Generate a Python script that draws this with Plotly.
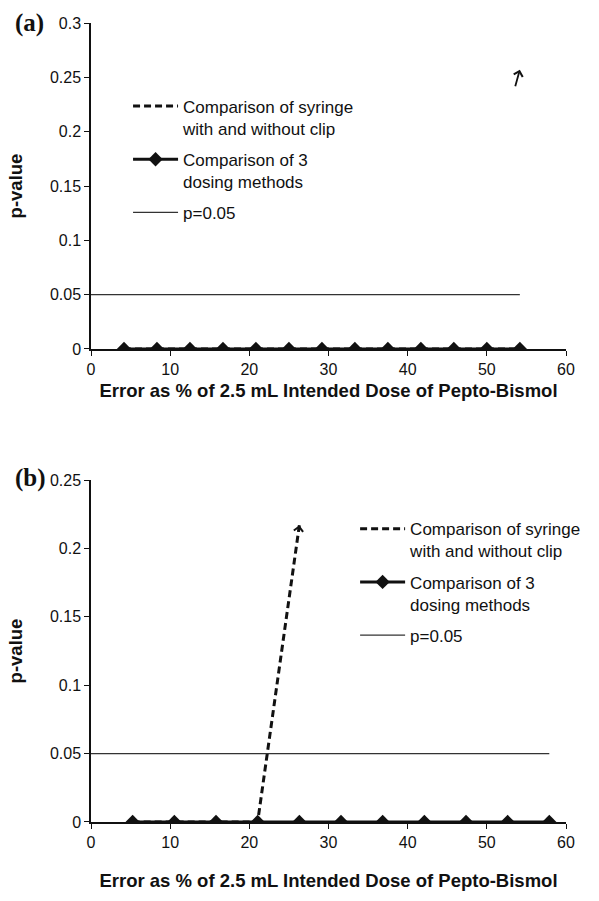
import plotly.graph_objects as go

# ---- data ----
xa = [4.17, 8.33, 12.5, 16.67, 20.83, 25.0, 29.17, 33.33, 37.5, 41.67, 45.83, 50.0, 54.17]
a_three_methods = [0.0] * 13
a_syringe_clip = [0.0] * 13
a_arrow_p = 0.257

xb = [5.26, 10.53, 15.79, 21.05, 26.32, 31.58, 36.84, 42.11, 47.37, 52.63, 57.89]
b_three_methods = [0.0] * 11
xb_syringe = [5.26, 10.53, 15.79, 21.05, 26.32]
b_syringe_clip = [0.0, 0.0, 0.0, 0.0, 0.217]

p_threshold = 0.05
xtitle = "Error as % of 2.5 mL Intended Dose of Pepto-Bismol"
name_syr = "Comparison of syringe<br>with and without clip"
name_3 = "Comparison of 3<br>dosing methods"
name_p = "p=0.05"

FONT = "Liberation Sans, Arial, sans-serif"
INK = "#111111"

fig = go.Figure()

# panel (a)
fig.add_trace(go.Scatter(x=xa, y=a_syringe_clip, mode="lines", name=name_syr,
                         line=dict(color=INK, width=3, dash="7px,4px"), legendgroup="s",
                         xaxis="x", yaxis="y", legend="legend"))
fig.add_trace(go.Scatter(x=xa, y=a_three_methods, mode="lines+markers", name=name_3,
                         line=dict(color=INK, width=3), legendgroup="m",
                         marker=dict(symbol="diamond", size=11, color=INK),
                         xaxis="x", yaxis="y", legend="legend"))
fig.add_trace(go.Scatter(x=[0, xa[-1]], y=[p_threshold, p_threshold], mode="lines", name=name_p,
                         line=dict(color="#333333", width=1.2), legendgroup="p",
                         xaxis="x", yaxis="y", legend="legend"))

# panel (b)
fig.add_trace(go.Scatter(x=xb_syringe, y=b_syringe_clip, mode="lines", name=name_syr,
                         line=dict(color=INK, width=3, dash="7px,4px"), legendgroup="s",
                         xaxis="x2", yaxis="y2", legend="legend2"))
fig.add_trace(go.Scatter(x=xb, y=b_three_methods, mode="lines+markers", name=name_3,
                         line=dict(color=INK, width=3), legendgroup="m",
                         marker=dict(symbol="diamond", size=11, color=INK),
                         xaxis="x2", yaxis="y2", legend="legend2"))
fig.add_trace(go.Scatter(x=[0, xb[-1]], y=[p_threshold, p_threshold], mode="lines", name=name_p,
                         line=dict(color="#333333", width=1.2), legendgroup="p",
                         xaxis="x2", yaxis="y2", legend="legend2"))

axis_common = dict(showline=True, linecolor=INK, linewidth=1.5, ticks="outside",
                   ticklen=5, tickcolor=INK, tickwidth=1.2, showgrid=False, zeroline=False,
                   tickfont=dict(family=FONT, size=16, color=INK))
title_font = dict(family=FONT, size=18.5, color=INK, weight="bold")
xt_a = dict(text=xtitle, font=title_font, standoff=7)
xt_b = dict(text=xtitle, font=title_font, standoff=24)
yt = dict(text="p-value", font=title_font, standoff=22)

legend_common = dict(font=dict(family=FONT, size=17, color=INK), bgcolor="rgba(0,0,0,0)",
                     valign="top", itemwidth=45, tracegroupgap=6, xanchor="left", yanchor="top")

fig.update_layout(
    width=599, height=901,
    margin=dict(l=91, r=13, t=23, b=79),
    paper_bgcolor="white", plot_bgcolor="white",
    xaxis=dict(domain=[0, 1], anchor="y", range=[0, 60], dtick=10, title=xt_a, **axis_common),
    yaxis=dict(domain=[0.592, 1.0], anchor="x", range=[0, 0.3], dtick=0.05, title=yt,
               tickformat="~g", **axis_common),
    xaxis2=dict(domain=[0, 1], anchor="y2", range=[0, 60], dtick=10, title=xt_b, **axis_common),
    yaxis2=dict(domain=[0, 0.428], anchor="x2", range=[0, 0.25], dtick=0.05, title=yt,
                tickformat="~g", **axis_common),
    legend=dict(x=0.078, y=0.918, **legend_common),
    legend2=dict(x=0.556, y=0.389, **legend_common),
    annotations=[
        dict(text="<b>(a)</b>", xref="paper", yref="paper", x=-0.165, y=1.0, xanchor="left",
             yanchor="middle", showarrow=False,
             font=dict(family="Liberation Serif, Times New Roman, serif", size=25, color=INK)),
        dict(text="<b>(b)</b>", xref="paper", yref="paper", x=-0.165, y=0.431, xanchor="left",
             yanchor="middle", showarrow=False,
             font=dict(family="Liberation Serif, Times New Roman, serif", size=25, color=INK)),
        dict(x=xa[-1], y=a_arrow_p, xref="x", yref="y", ax=-5, ay=18, text="",
             showarrow=True, arrowhead=4, arrowsize=1.0, arrowwidth=1.8, arrowcolor=INK),
        dict(x=xb_syringe[-1], y=b_syringe_clip[-1], xref="x2", yref="y2", ax=-1.2, ay=8, text="",
             showarrow=True, arrowhead=4, arrowsize=1.0, arrowwidth=1.8, arrowcolor=INK),
    ],
)

fig.write_html("out.html", config={"displayModeBar": False},
               post_script="document.body.style.margin='0';")
